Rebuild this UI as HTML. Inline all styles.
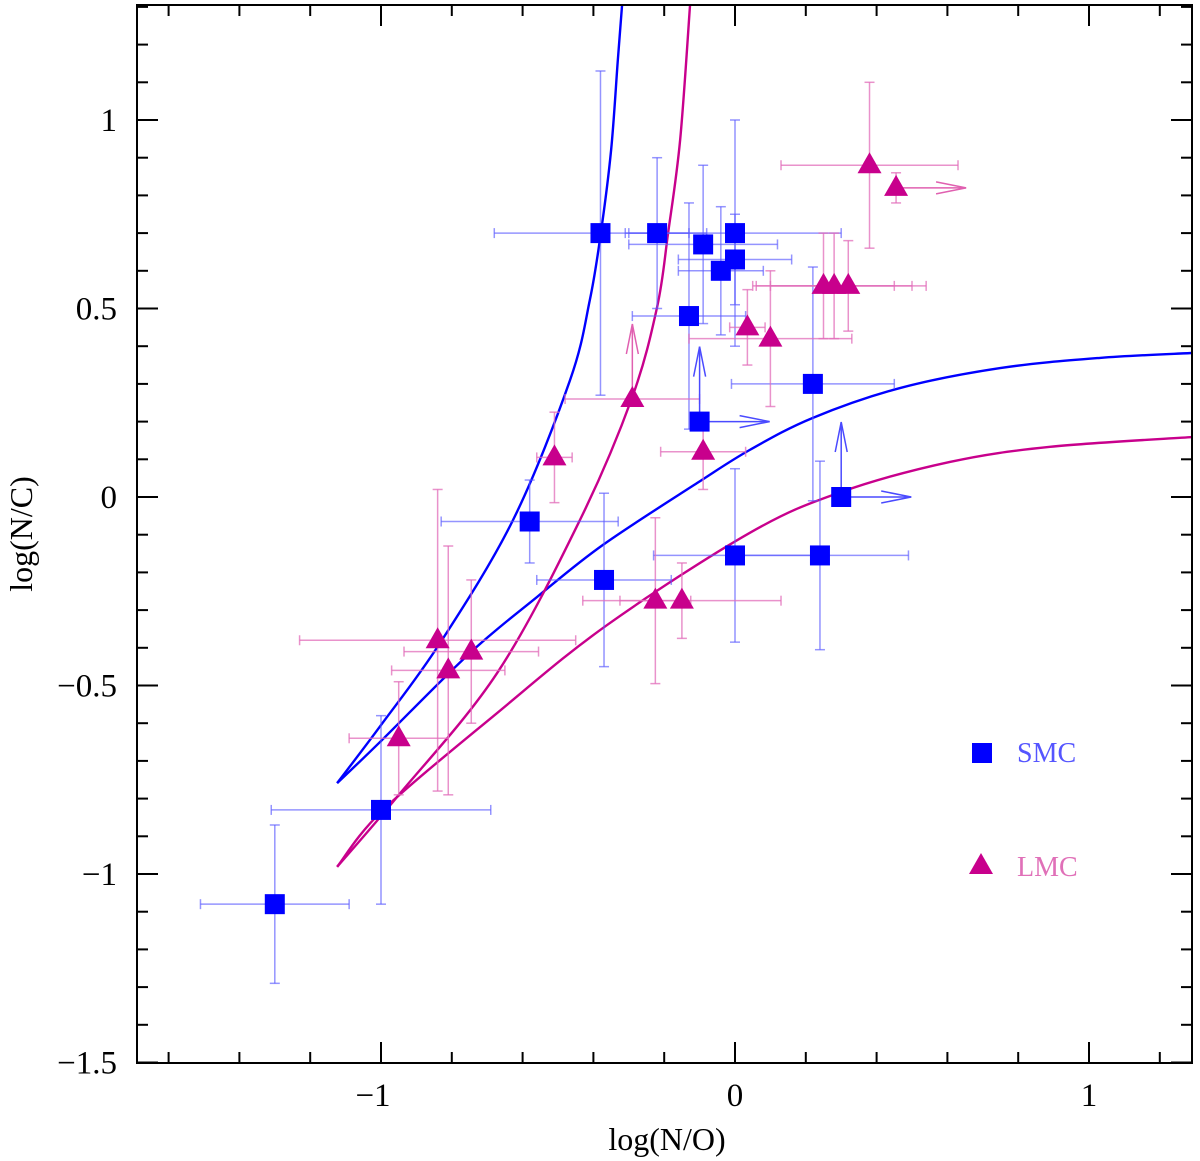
<!DOCTYPE html>
<html><head><meta charset="utf-8"><style>
html,body{margin:0;padding:0;background:#fff;}
svg{display:block;font-family:"Liberation Serif",serif;}
</style></head><body>
<svg id="chart" width="1200" height="1161" viewBox="0 0 1200 1161" xmlns="http://www.w3.org/2000/svg">
<g id="curves"></g>
<g id="errs"></g>
<g id="marks"></g>
<g id="axes"></g>
<text x="667" y="1150" font-size="32" text-anchor="middle">log(N/O)</text>
<text transform="translate(32,534) rotate(-90)" font-size="32" text-anchor="middle">log(N/C)</text>
<g>
<rect x="972" y="743" width="20" height="20" fill="#0000ff"/>
<text x="1017" y="762" font-size="28" fill="#5555ff">SMC</text>
<polygon points="969,874 993,874 981,853" fill="#c8008c"/>
<text x="1017" y="876" font-size="28" fill="#e070b8">LMC</text>
</g>
</svg>
<script>
// SMC data
const smcX  = [-0.38,-0.22,-0.09,0.00,-0.04,0.00,-0.13,-0.10,0.22,0.30,-0.58,-0.37,0.00,0.24,-1.00,-1.30];
const smcY  = [0.70,0.70,0.67,0.70,0.60,0.63,0.48,0.20,0.30,0.00,-0.065,-0.22,-0.155,-0.155,-0.83,-1.08];
const smcXe = [0.30,0.09,0.21,0.30,0.12,0.16,0.16,0.00,0.23,0.00,0.25,0.19,0.23,0.25,0.31,0.21];
const smcYe = [0.43,0.20,0.21,0.30,0.17,0.12,0.30,0.00,0.31,0.00,0.11,0.23,0.23,0.25,0.25,0.21];
const smcLim= [0,0,0,0,0,0,0,1,0,1,0,0,0,0,0,0];
// LMC data
const lmcX  = [0.38,0.455,0.25,0.28,0.32,0.035,0.10,-0.29,-0.09,-0.51,-0.225,-0.15,-0.84,-0.81,-0.745,-0.95];
const lmcY  = [0.88,0.82,0.56,0.56,0.56,0.45,0.42,0.26,0.12,0.105,-0.275,-0.275,-0.38,-0.46,-0.41,-0.64];
const lmcXe = [0.25,0.00,0.20,0.22,0.22,0.05,0.23,0.19,0.12,0.05,0.10,0.28,0.39,0.16,0.19,0.14];
const lmcYe = [0.22,0.04,0.14,0.14,0.12,0.10,0.18,0.00,0.10,0.12,0.22,0.10,0.40,0.33,0.19,0.15];
const lmcLim= [0,1,0,0,0,0,0,2,0,0,0,0,0,0,0,0];
// mixing curves
const blueSteepX = [-1.124,-1.0,-0.833,-0.627,-0.466,-0.41,-0.379,-0.35,-0.331,-0.319];
const blueSteepY = [-0.759,-0.605,-0.387,-0.061,0.31,0.523,0.70,0.92,1.159,1.305];
const blueFlatX  = [-1.124,-1.003,-0.749,-0.559,-0.373,-0.107,0.042,0.22,0.466,0.749,1.031,1.291];
const blueFlatY  = [-0.759,-0.65,-0.414,-0.265,-0.127,0.037,0.125,0.21,0.289,0.342,0.369,0.382];
const magSteepX  = [-1.124,-0.955,-0.672,-0.438,-0.291,-0.22,-0.189,-0.155,-0.127];
const magSteepY  = [-0.981,-0.796,-0.467,-0.061,0.263,0.504,0.70,0.947,1.305];
const magFlatX   = [-1.124,-0.994,-0.672,-0.362,0.042,0.299,0.607,0.89,1.291];
const magFlatY   = [-0.981,-0.83,-0.573,-0.34,-0.095,0.013,0.093,0.133,0.159];
const xTickLabels = ["−1","0","1"];
const xTickVals = [-1,0,1];
const yTickLabels = ["−1.5","−1","−0.5","0","0.5","1"];
const yTickVals = [-1.5,-1,-0.5,0,0.5,1];

const L=137,R=1192,T=5,B=1063;
const X0=735,XS=354,Y0=497,YS=377;
const sx=v=>X0+v*XS, sy=v=>Y0-v*YS;
const NS="http://www.w3.org/2000/svg";
function mk(tag,attrs,parent){const e=document.createElementNS(NS,tag);for(const k in attrs)e.setAttribute(k,attrs[k]);parent.appendChild(e);return e;}
const gC=document.getElementById('curves'),gE=document.getElementById('errs'),gM=document.getElementById('marks'),gA=document.getElementById('axes');

function crPath(xs,ys){
  const p=xs.map((x,i)=>[sx(x),sy(ys[i])]);
  let d=`M${p[0][0]},${p[0][1]}`;
  for(let i=0;i<p.length-1;i++){
    const p0=p[Math.max(0,i-1)],p1=p[i],p2=p[i+1],p3=p[Math.min(p.length-1,i+2)];
    const c1=[p1[0]+(p2[0]-p0[0])/6,p1[1]+(p2[1]-p0[1])/6];
    const c2=[p2[0]-(p3[0]-p1[0])/6,p2[1]-(p3[1]-p1[1])/6];
    d+=` C${c1[0]},${c1[1]} ${c2[0]},${c2[1]} ${p2[0]},${p2[1]}`;
  }
  return d;
}
const clip=mk('clipPath',{id:'pc'},gC);mk('rect',{x:L,y:T,width:R-L,height:B-T},clip);
[[blueSteepX,blueSteepY,'#0000ff','blue-steep-curve'],[blueFlatX,blueFlatY,'#0000ff','blue-flat-curve'],
 [magSteepX,magSteepY,'#c8008c','magenta-steep-curve'],[magFlatX,magFlatY,'#c8008c','magenta-flat-curve']].forEach(c=>{
  const e=mk('path',{d:crPath(c[0],c[1]),fill:'none',stroke:c[2],'stroke-width':2.4,'clip-path':'url(#pc)'},gC);
  
  
});

function errbars(xs,ys,xe,ye,col,name){
  xs.forEach((x,i)=>{
    const cx=sx(x),cy=sy(ys[i]);
    const g=mk('g',{stroke:col,'stroke-width':1.5,fill:'none'},gE);
    
    
    if(xe[i]>0){const a=sx(x-xe[i]),b=sx(x+xe[i]);
      mk('line',{x1:a,y1:cy,x2:b,y2:cy},g);mk('line',{x1:a,y1:cy-5,x2:a,y2:cy+5},g);mk('line',{x1:b,y1:cy-5,x2:b,y2:cy+5},g);}
    if(ye[i]>0){const a=sy(ys[i]-ye[i]),b=sy(ys[i]+ye[i]);
      mk('line',{x1:cx,y1:a,x2:cx,y2:b},g);mk('line',{x1:cx-5,y1:a,x2:cx+5,y2:a},g);mk('line',{x1:cx-5,y1:b,x2:cx+5,y2:b},g);}
  });
}
function arrows(xs,ys,lim,col,name){
  xs.forEach((x,i)=>{
    if(!lim[i])return;
    const cx=sx(x),cy=sy(ys[i]);
    const g=mk('g',{stroke:col,'stroke-width':1.5,fill:'none'},gE);
    
    
    if(lim[i]===1){
      mk('line',{x1:cx,y1:cy,x2:cx+70,y2:cy},g);mk('polyline',{points:`${cx+40},${cy-6} ${cx+70},${cy} ${cx+40},${cy+6}`},g);
    }
    if(lim[i]===1&&name==='smc'||lim[i]===2){
      mk('line',{x1:cx,y1:cy,x2:cx,y2:cy-75},g);mk('polyline',{points:`${cx-6},${cy-45} ${cx},${cy-75} ${cx+6},${cy-45}`},g);
    }
  });
}
errbars(smcX,smcY,smcXe,smcYe,'rgba(90,90,255,0.65)','smc');
errbars(lmcX,lmcY,lmcXe,lmcYe,'rgba(225,110,185,0.75)','lmc');
arrows(smcX,smcY,smcLim,'#4a4aff','smc');
arrows(lmcX,lmcY,lmcLim,'#e060b0','lmc');

smcX.forEach((x,i)=>{
  const e=mk('rect',{x:sx(x)-10,y:sy(smcY[i])-10,width:20,height:20,fill:'#0000ff'},gM);
  
  
});
lmcX.forEach((x,i)=>{
  const cx=sx(x),cy=sy(lmcY[i]);
  const e=mk('polygon',{points:`${cx-12},${cy+8} ${cx+12},${cy+8} ${cx},${cy-13}`,fill:'#c8008c'},gM);
  
  
});

const fr=mk('rect',{x:L,y:T,width:R-L,height:B-T,fill:'none',stroke:'#000','stroke-width':2},gA);


for(let k=-8;k<=6;k++){
  const v=k*0.2,px=sx(v);if(px<L||px>R)continue;
  const len=(k%5===0)?21:11;
  mk('line',{x1:px,y1:B,x2:px,y2:B-len,stroke:'#000','stroke-width':2},gA);
  mk('line',{x1:px,y1:T,x2:px,y2:T+len,stroke:'#000','stroke-width':2},gA);
}
for(let k=-15;k<=13;k++){
  const v=k*0.1,py=sy(v);if(py<T||py>B)continue;
  const len=(k%5===0)?21:11;
  mk('line',{x1:L,y1:py,x2:L+len,y2:py,stroke:'#000','stroke-width':2},gA);
  mk('line',{x1:R,y1:py,x2:R-len,y2:py,stroke:'#000','stroke-width':2},gA);
}
xTickVals.forEach((v,i)=>{
  const t=mk('text',{x:sx(v)-(v<0?8:0),y:B+43,'font-size':33,'text-anchor':'middle'},gA);
  t.textContent=xTickLabels[i];
  
  
});
yTickVals.forEach((v,i)=>{
  const t=mk('text',{x:117,y:sy(v)+11,'font-size':33,'text-anchor':'end'},gA);
  t.textContent=yTickLabels[i];
  
  
});
</script>
</body></html>
